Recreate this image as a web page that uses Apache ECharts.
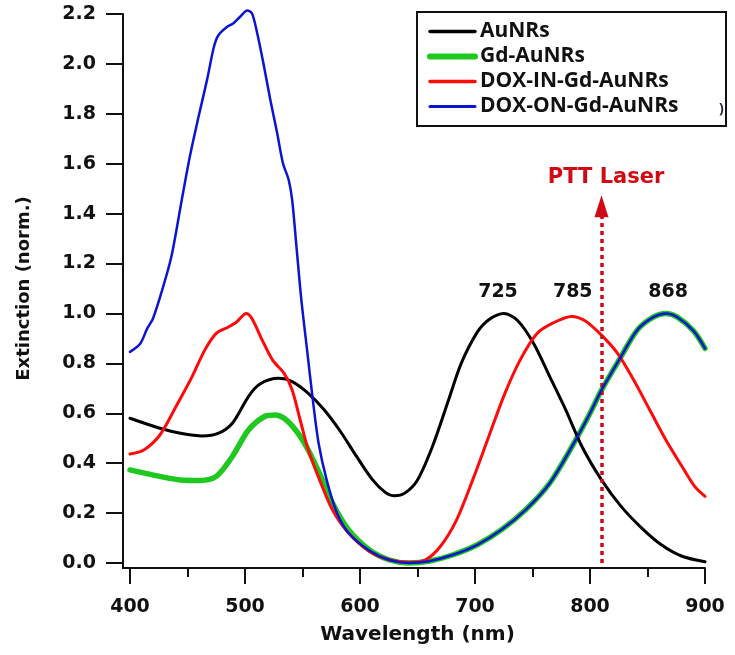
<!DOCTYPE html>
<html>
<head>
<meta charset="utf-8">
<script src="https://cdn.jsdelivr.net/npm/echarts@6/dist/echarts.min.js"></script>
<style>html,body{margin:0;padding:0;background:#fff}#c{width:735px;height:655px}</style>
</head>
<body>
<div id="c"></div>
<script>
// ---- data ----
const seriesNames = ['AuNRs', 'Gd-AuNRs', 'DOX-IN-Gd-AuNRs', 'DOX-ON-Gd-AuNRs'];

const auNRsNm  = [400,426,444,463,477,489,503,513,529,541,555,569,583,597,611,622,630,639,650,663,677,688,702,712,725,737,751,765,779,793,810,827,845,862,880,900];
const auNRsVal = [0.58,0.54,0.52,0.509,0.52,0.56,0.667,0.717,0.74,0.727,0.68,0.613,0.527,0.427,0.333,0.283,0.269,0.28,0.333,0.467,0.653,0.8,0.925,0.975,1.0,0.972,0.88,0.747,0.613,0.467,0.333,0.227,0.14,0.073,0.027,0.005];

const gdNm  = [400,426,444,461,475,489,503,517,526,534,545,555,566,576,590,608,625,642,660,681,702,723,744,765,786,800,810,827,841,855,866,876,890,900];
const gdVal = [0.373,0.347,0.333,0.331,0.347,0.427,0.533,0.587,0.593,0.58,0.527,0.453,0.347,0.24,0.133,0.053,0.013,0.0,0.007,0.033,0.073,0.133,0.213,0.32,0.48,0.6,0.693,0.827,0.933,0.985,1.0,0.985,0.93,0.86];

const doxInNm  = [400,412,426,440,454,465,475,486,493,501,506,515,524,534,541,548,555,566,576,590,608,625,643,657,670,684,698,712,726,740,754,768,784,796,810,824,838,852,866,880,891,900];
const doxInVal = [0.437,0.453,0.513,0.627,0.747,0.853,0.92,0.947,0.967,1.0,0.98,0.893,0.813,0.76,0.693,0.573,0.453,0.32,0.213,0.12,0.047,0.013,0.003,0.013,0.067,0.173,0.333,0.507,0.68,0.82,0.92,0.962,0.988,0.97,0.913,0.84,0.733,0.613,0.493,0.387,0.307,0.267];

const doxOnNm  = [400,409,415,420,428,436,445,452,459,467,473,477,484,490,496,502,506,510,516,522,528,533,538,541,545,549,554,559,564,571,580,590,608,625,642,660,681,702,723,744,765,786,800,810,827,841,855,866,876,890,900];
const doxOnVal = [0.846,0.88,0.94,0.98,1.094,1.228,1.455,1.628,1.776,1.936,2.069,2.116,2.147,2.163,2.19,2.214,2.203,2.136,2.003,1.856,1.722,1.602,1.535,1.455,1.255,1.054,0.853,0.653,0.48,0.333,0.2,0.12,0.05,0.013,0.0,0.007,0.033,0.073,0.133,0.213,0.32,0.48,0.6,0.693,0.827,0.933,0.985,1.0,0.985,0.93,0.86];

const peakLabels = ['725', '785', '868'];
const peakLabelNm = [720, 785, 868];
const peakLabelVal = 1.086;
const laserNm = 810;
const laserTop = 1.43;
const laserText = 'PTT Laser';
const laserTextPos = [814, 1.545];

const xMin = 400, xMax = 900, xStep = 100;
const yMin = 0, yMax = 2.2, yStep = 0.2;

// ---- build ----
const zip = (a, b) => a.map((x, i) => [x, b[i]]);
const fontFam = 'DejaVu Sans';
const laserColor = '#cf0a14';
const colors = ['#000000', '#1ec81e', '#ff0a0a', '#0a14d2'];
const widths = [3, 5.5, 3, 2.5];

const chart = echarts.init(document.getElementById('c'), null, {renderer: 'canvas'});

const lineSeries = (i, nm, val, z) => ({
  name: seriesNames[i], type: 'line', data: zip(nm, val), showSymbol: false, symbol: 'none',
  smooth: 0.3, clip: false, z, lineStyle: {color: colors[i], width: widths[i], cap: 'round', join: 'round'},
  itemStyle: {color: colors[i]}, silent: true, animation: false
});

chart.setOption({
  animation: false,
  grid: {left: 130, right: 30, top: 14, bottom: 92, containLabel: false},
  xAxis: {
    type: 'value', min: xMin, max: xMax, interval: xStep, offset: 5,
    name: 'Wavelength (nm)', nameLocation: 'middle', nameGap: 57,
    nameTextStyle: {fontFamily: fontFam, fontWeight: 'bold', fontSize: 20, color: '#111'},
    axisLine: {show: true, onZero: false, lineStyle: {color: '#111', width: 2}},
    axisTick: {show: true, inside: false, length: 16, lineStyle: {color: '#111', width: 2}},
    minorTick: {show: true, splitNumber: 2, length: 9, lineStyle: {color: '#111', width: 2}},
    axisLabel: {margin: 30, fontFamily: fontFam, fontWeight: 'bold', fontSize: 19, color: '#111'},
    splitLine: {show: false}, minorSplitLine: {show: false}
  },
  yAxis: {
    type: 'value', min: yMin, max: yMax, interval: yStep, offset: 7,
    name: 'Extinction (norm.)', nameLocation: 'middle', nameGap: 90,
    nameTextStyle: {fontFamily: fontFam, fontWeight: 'bold', fontSize: 18, color: '#111'},
    axisLine: {show: true, onZero: false, lineStyle: {color: '#111', width: 2}},
    axisTick: {show: true, inside: false, length: 17, lineStyle: {color: '#111', width: 2}},
    axisLabel: {margin: 27, fontFamily: fontFam, fontWeight: 'bold', fontSize: 19, color: '#111',
      formatter: v => v.toFixed(1)},
    splitLine: {show: false}
  },
  legend: {
    orient: 'vertical', left: 427, top: 19, padding: 0, itemGap: 0,
    itemWidth: 45, itemHeight: 14, selectedMode: false,
    data: seriesNames.map((n, i) => ({
      name: n, icon: 'inherit',
      itemStyle: {color: 'rgba(0,0,0,0)', borderWidth: 0, opacity: 0},
      lineStyle: {width: widths[i] + 0.5, color: colors[i], opacity: 1}
    })),
    textStyle: {fontFamily: 'Open Sans', fontWeight: 'bold', fontSize: 21, color: '#111', lineHeight: 25, padding: [0, 0, 0, 0]}
  },
  graphic: [
    {type: 'rect', shape: {x: 417, y: 12, width: 309, height: 114}, style: {fill: 'none', stroke: '#111', lineWidth: 2}, z: 100},
    {type: 'text', x: 719, y: 102, style: {text: ')', fontSize: 14, fontFamily: 'Open Sans', fill: '#223', fontWeight: 'bold'}, z: 100},
    {type: 'line', shape: {x1: 123, y1: 562, x2: 123, y2: 569}, style: {stroke: '#111', lineWidth: 2}},
    {type: 'line', shape: {x1: 122, y1: 568, x2: 131, y2: 568}, style: {stroke: '#111', lineWidth: 2}}
  ],
  series: [
    lineSeries(0, auNRsNm, auNRsVal, 3),
    lineSeries(1, gdNm, gdVal, 2),
    lineSeries(2, doxInNm, doxInVal, 4),
    lineSeries(3, doxOnNm, doxOnVal, 5),
    {
      name: 'laser', type: 'line', data: [], silent: true, z: 6,
      markLine: {
        silent: true, animation: false,
        symbol: ['none', 'triangle'], symbolSize: [14, 22],
        lineStyle: {color: laserColor, width: 3.5, type: [4, 4], cap: 'butt'},
        itemStyle: {color: laserColor},
        label: {show: false},
        data: [[{coord: [laserNm, 0]}, {coord: [laserNm, laserTop]}]]
      },
      markPoint: {
        silent: true, animation: false, symbol: 'circle', symbolSize: 0,
        label: {show: true, position: 'inside', fontFamily: fontFam, fontWeight: 'bold', fontSize: 19},
        data: [
          {coord: laserTextPos, label: {formatter: laserText, color: laserColor, fontSize: 21}},
          ...peakLabels.map((t, i) => ({coord: [peakLabelNm[i], peakLabelVal], label: {formatter: t, color: '#111'}}))
        ]
      }
    }
  ]
});
</script>
</body>
</html>
